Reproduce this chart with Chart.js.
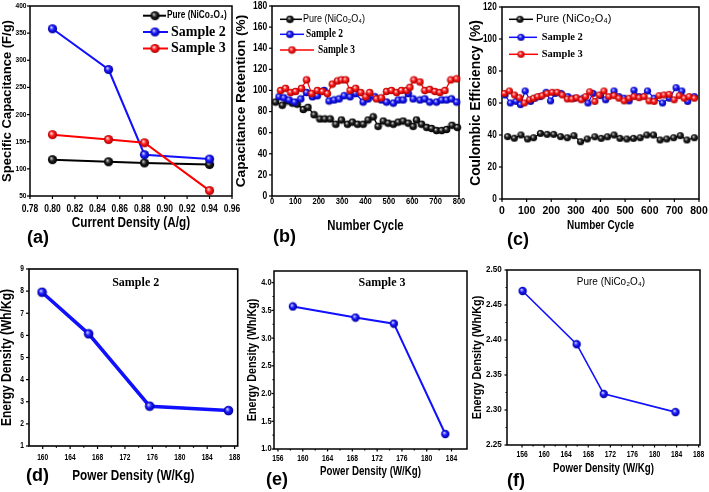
<!DOCTYPE html>
<html><head><meta charset="utf-8"><title>Supercapacitor performance</title>
<script src="https://cdn.jsdelivr.net/npm/chart.js@4.4.1/dist/chart.umd.min.js"></script>
<style>
html,body{margin:0;padding:0;background:#fff;}
body{width:709px;height:492px;overflow:hidden;position:relative;}
canvas{position:absolute;}
.pl{position:absolute;font:bold 18px "Liberation Sans",Arial,sans-serif;line-height:18px;color:#000;}
</style></head><body>
<script>
// ---------- DATA ----------
const LBL_PURE = 'Pure (NiCo\u2082O\u2084)';
const LBL_S2 = 'Sample 2';
const LBL_S3 = 'Sample 3';

// (a) specific capacitance vs current density
const aX = [0.80, 0.85, 0.882, 0.94];
const aPure = [117, 113, 111, 108];
const aSample2 = [358, 283, 126, 118];
const aSample3 = [163, 154, 148, 60];
const aXTicks = [0.78, 0.80, 0.82, 0.84, 0.86, 0.88, 0.90, 0.92, 0.94, 0.96];
const aYTicks = [50, 100, 150, 200, 250, 300, 350, 400];

// (b) capacitance retention vs cycle
const bPureX = [15,44,65,87,108,134,154,180,205,226,249,273,297,323,344,366,390,411,433,454,476,497,519,540,561,583,604,618,640,662,683,704,726,747,770,793];
const bPureY = [89,86,90,88,87,82,84,77,73,73,73,68,72,68,70,68,68,72,75,66,71,69,68,70,71,69,66,72,68,65,64,62,62,63,67,65];
const bS2X = [30,51,73,97,123,148,173,194,223,244,266,287,309,334,358,390,411,440,468,490,519,540,561,583,604,633,654,675,704,726,747,768,790];
const bS2Y = [94,93,91,89,92,98,94,95,100,90,91,92,95,94,97,89,92,94,91,89,88,91,91,97,92,91,92,89,89,91,91,92,89];
const bS3X = [37,58,80,101,126,148,170,194,216,237,258,280,297,315,334,358,380,401,418,447,468,490,511,533,554,576,590,607,633,654,675,697,718,740,765,790];
const bS3Y = [100,102,98,99,102,110,97,100,99,97,106,109,110,110,100,102,98,94,98,92,93,99,100,98,100,100,103,110,108,100,101,99,98,100,110,111];
const bXTicks = [0,100,200,300,400,500,600,700,800];
const bYTicks = [0,20,40,60,80,100,120,140,160,180];

// (c) coulombic efficiency vs cycle
const cPureX = [23,50,77,104,128,156,183,210,238,265,292,319,346,377,403,428,455,479,507,534,561,588,615,642,669,697,724,751,781];
const cPureY = [39,38,40,37.5,38.3,41,40.4,40.4,39,38.3,39.6,35.8,37.5,38.9,37.9,38.9,40,37.9,37.5,37.9,38.3,40,40,36.9,37.5,38.3,39.6,36.9,38.3];
const cS2X = [12,34,57,75,94,116,134,156,179,197,216,240,268,295,329,349,370,400,421,455,475,496,516,536,557,591,618,652,679,707,730,754,781];
const cS2Y = [65,60,61,59,67.5,61,63,64,66.7,61.3,66,66,64,63,63,60,66,64.6,62,67.5,64,63,61.3,68,64,67.5,63,60,63,69.6,67.5,61,64];
const cS3X = [10,30,51,71,91,112,128,145,163,183,204,224,245,265,284,303,322,340,356,377,395,414,434,455,475,496,516,536,557,577,597,618,638,658,679,699,720,740,760,781];
const cS3Y = [66,67.5,65,63.3,60,62,63,64,64.6,66,66.7,66.7,65,62.5,62.5,63.3,62,64,67,61,65,67.5,64,64.6,63,61.3,63,64,63.3,64,61.3,61,64.6,65,65.4,62,64.6,63,64,63];
const cXTicks = [0,100,200,300,400,500,600,700,800];
const cYTicks = [0,20,40,60,80,100,120];

// (d) Sample 2 energy vs power density
const dX = [159.9, 166.7, 175.6, 187.1];
const dY = [7.95, 6.07, 2.8, 2.6];
const dXTicks = [160,164,168,172,176,180,184,188];
const dYTicks = [1,2,3,4,5,6,7,8,9];

// (e) Sample 3
const eX = [158.4, 168.5, 174.7, 183.0];
const eY = [3.57, 3.37, 3.26, 1.27];
const eXTicks = [156,160,164,168,172,176,180,184];
const eYTicks = [1.0,1.5,2.0,2.5,3.0,3.5,4.0];

// (f) Pure
const fX = [156.1, 165.9, 170.8, 183.8];
const fY = [2.47, 2.394, 2.323, 2.297];
const fXTicks = [156,160,164,168,172,176,180,184,188];
const fYTicks = [2.25,2.30,2.35,2.40,2.45,2.50];

// ---------- STYLE / HELPERS ----------
const FS = '"Liberation Sans",Arial,sans-serif';
const FT = '"Liberation Serif","Times New Roman",serif';
Chart.defaults.color = '#000';

const COLORS = {
  black: {line:'#000000', stops:['#f0f0f0','#8a8a8a','#1e1e1e','#000000']},
  blue:  {line:'#1010ff', stops:['#ffffff','#8c8cff','#1a1aff','#00009a']},
  red:   {line:'#ff0000', stops:['#ffffff','#ff9a9a','#ff1a1a','#a80000']}
};
function sphere(col, r){
  const s = Math.ceil(2*r)+1;
  const c = document.createElement('canvas'); c.width = s; c.height = s;
  const g = c.getContext('2d'); const cx = s/2, cy = s/2;
  const st = COLORS[col].stops;
  const grd = g.createRadialGradient(cx-r*0.3, cy-r*0.35, 0, cx, cy, r);
  grd.addColorStop(0, st[0]); grd.addColorStop(0.22, st[1]); grd.addColorStop(0.5, st[2]); grd.addColorStop(1, st[3]);
  g.fillStyle = grd; g.beginPath(); g.arc(cx, cy, r, 0, Math.PI*2); g.fill();
  return c;
}
function pts(xs, ys){ return xs.map((x,i)=>({x:x, y:ys[i]})); }
function ds(label, xs, ys, col, r, lw, order){
  const img = sphere(col, r);
  return {label, data: pts(xs,ys), showLine:true, borderColor:COLORS[col].line, backgroundColor:COLORS[col].line,
    borderWidth:lw, pointStyle:img, pointRadius:r, pointHoverRadius:r, clip:false, tension:0, order:order};
}
const fontStr = F => `${F.weight||'normal'} ${F.size}px ${F.family}`;
function drawText(ctx, s, x, y, font, sx, align, rot){
  ctx.save(); ctx.translate(x, y); if (rot) ctx.rotate(rot); ctx.scale(sx, 1);
  ctx.font = font; ctx.textAlign = align; ctx.textBaseline = 'middle'; ctx.fillStyle = '#000';
  ctx.fillText(s, 0, 0); ctx.restore();
}

const framePlugin = {
  id:'frame',
  beforeDatasetsDraw(chart, args, o){
    const {ctx, chartArea:a} = chart; const x = chart.scales.x, y = chart.scales.y;
    ctx.save();
    ctx.strokeStyle = '#000'; ctx.lineWidth = o.lw;
    ctx.strokeRect(a.left, a.top, a.right-a.left, a.bottom-a.top);
    ctx.lineWidth = o.tw;
    const tk = (sc, horiz, len, vals) => vals.forEach(v => {
      const p = sc.getPixelForValue(v); ctx.beginPath();
      if (horiz){ ctx.moveTo(p, a.bottom); ctx.lineTo(p, a.bottom+len); }
      else { ctx.moveTo(a.left, p); ctx.lineTo(a.left-len, p); }
      ctx.stroke();
    });
    const maj = sc => sc.ticks.map(t => t.value);
    const mid = arr => arr.slice(1).map((v,i) => (v+arr[i])/2);
    tk(x, true, o.tl, maj(x)); tk(y, false, o.tl, maj(y));
    if (o.minorX) tk(x, true, o.tl*0.6, mid(maj(x)));
    if (o.minorY) tk(y, false, o.tl*0.6, mid(maj(y)));
    ctx.restore();
  }
};
// tick labels and axis titles, drawn at the positions the scales give
const axisTextPlugin = {
  id:'axtext',
  afterDraw(chart, args, o){
    const P = o.p; if (!P) return;
    const ctx = chart.ctx, a = chart.chartArea, X = chart.scales.x, Y = chart.scales.y;
    X.ticks.forEach(t => drawText(ctx, P.x.fmt(t.value), X.getPixelForValue(t.value), P.x.tcy - P.cv.t, fontStr(P.x.tf), P.x.sx, 'center'));
    Y.ticks.forEach(t => drawText(ctx, P.y.fmt(t.value), P.y.trx - P.cv.l, Y.getPixelForValue(t.value), fontStr(P.y.tf), P.y.sx, 'right'));
    drawText(ctx, X.options.title.text, (a.left+a.right)/2, P.x.tcyT - P.cv.t, fontStr(P.x.ttf), P.x.sxT, 'center');
    drawText(ctx, Y.options.title.text, P.y.tcxT - P.cv.l, (a.top+a.bottom)/2, fontStr(P.y.ttf), P.y.sxT, 'center', -Math.PI/2);
  }
};
const legendPlugin = {
  id:'ilegend',
  afterDatasetsDraw(chart, args, o){
    if (!o.items) return;
    const ctx = chart.ctx;
    chart.data.datasets.forEach((d, i) => {
      const it = o.items[i]; if (!it) return;
      const y = it.y - o.oy;
      ctx.save();
      if (it.x0 != null){
        ctx.strokeStyle = d.borderColor; ctx.lineWidth = it.lw || 2;
        ctx.beginPath(); ctx.moveTo(it.x0-o.ox, y); ctx.lineTo(it.x1-o.ox, y); ctx.stroke();
        const img = d.pointStyle;
        ctx.drawImage(img, it.m-o.ox-img.width/2, y-img.height/2);
      }
      ctx.restore();
      drawText(ctx, d.label, it.tx-o.ox, y, it.font, it.sx || 1, it.align || 'left');
    });
  }
};

function makePanel(p){
  const cv = document.createElement('canvas');
  cv.width = p.cv.r - p.cv.l; cv.height = p.cv.b - p.cv.t;
  cv.style.left = p.cv.l+'px'; cv.style.top = p.cv.t+'px';
  document.body.appendChild(cv);
  const yW = p.plot.l - p.cv.l, xH = p.cv.b - p.plot.b;
  const axis = (A, isX) => ({
    type:'linear', min:A.min, max:A.max,
    afterBuildTicks: s => { s.ticks = A.ticks.map(v => ({value:v})); },
    afterFit: s => { if (isX) s.height = xH; else s.width = yW; },
    grid:{display:false, drawTicks:false}, border:{display:false},
    ticks:{display:false, autoSkip:false, maxRotation:0, minRotation:0},
    title:{display:false, text:A.title}
  });
  new Chart(cv, {
    type:'scatter',
    data:{datasets:p.datasets},
    options:{
      responsive:false, animation:false, devicePixelRatio:1, events:[],
      layout:{padding:{left:0, top:p.plot.t - p.cv.t, right:p.cv.r - p.plot.r, bottom:0}},
      plugins:{legend:{display:false}, tooltip:{enabled:false},
        frame:{lw:p.frame.lw, tw:p.frame.tw, tl:p.frame.tl, minorX:p.frame.minorX, minorY:p.frame.minorY},
        axtext:{p:p},
        ilegend:{items:p.legend, ox:p.cv.l, oy:p.cv.t}},
      scales:{x:axis(p.x, true), y:axis(p.y, false)}
    },
    plugins:[framePlugin, legendPlugin, axisTextPlugin]
  });
}

const fmt2 = v => v.toFixed(2), fmt1 = v => v.toFixed(1), fmt0 = v => String(v);
const bold = (size) => ({family:FS, size:size, weight:'bold'});

const PANELS = [
 { // (a)
  plot:{l:30,t:6,r:232,b:196}, cv:{l:0,t:-4,r:246,b:240},
  x:{min:0.78,max:0.96,ticks:aXTicks,fmt:fmt2,tf:bold(10),sx:0.85,tcy:209,title:'Current Density (A/g)',ttf:bold(14),sxT:0.84,tcyT:223},
  y:{min:50,max:400,ticks:aYTicks,fmt:fmt0,tf:bold(7.5),sx:0.88,trx:26.5,title:'Specific Capacitance (F/g)',ttf:bold(13),sxT:1,tcxT:7.7},
  frame:{lw:1.5,tw:1.2,tl:3},
  datasets:[ds(LBL_PURE,aX,aPure,'black',4.6,2,2), ds(LBL_S2,aX,aSample2,'blue',4.6,2,1), ds(LBL_S3,aX,aSample3,'red',4.6,2,0)],
  legend:[{x0:143,x1:166,m:155,y:15.7,tx:167,font:`bold 10px ${FS}`,sx:0.83,lw:2},
          {x0:143,x1:168,m:155,y:32,tx:171,font:`bold 14px ${FT}`,lw:2},
          {x0:143,x1:168,m:155,y:48.5,tx:171,font:`bold 14px ${FT}`,lw:2}]
 },
 { // (b)
  plot:{l:272,t:6,r:459,b:196}, cv:{l:233,t:-4,r:467,b:240},
  x:{min:0,max:800,ticks:bXTicks,fmt:fmt0,tf:bold(9.5),sx:0.8,tcy:201.5,title:'Number Cycle',ttf:bold(14),sxT:0.81,tcyT:226},
  y:{min:0,max:180,ticks:bYTicks,fmt:fmt0,tf:bold(10),sx:0.85,trx:267.3,title:'Capacitance Retention (%)',ttf:bold(13.7),sxT:1,tcxT:241.7},
  frame:{lw:1.5,tw:1.2,tl:3},
  datasets:[ds(LBL_PURE,bPureX,bPureY,'black',3.8,1.3,2), ds(LBL_S2,bS2X,bS2Y,'blue',3.8,1.3,1), ds(LBL_S3,bS3X,bS3Y,'red',3.8,1.3,0)],
  legend:[{x0:280,x1:302,m:290,y:19.3,tx:303,font:`10.5px ${FS}`,sx:0.86,lw:1.5},
          {x0:280,x1:304,m:290,y:34.3,tx:306,font:`bold 11.5px ${FT}`,sx:0.82,lw:1.5},
          {x0:280,x1:314,m:292,y:50,tx:318,font:`bold 11.5px ${FT}`,sx:0.82,lw:1.5}]
 },
 { // (c)
  plot:{l:502,t:7,r:699,b:199}, cv:{l:467,t:-3,r:709,b:240},
  x:{min:0,max:800,ticks:cXTicks,fmt:fmt0,tf:bold(11),sx:0.95,tcy:210.7,title:'Number Cycle',ttf:bold(12),sxT:0.83,tcyT:225.5},
  y:{min:0,max:120,ticks:cYTicks,fmt:fmt0,tf:bold(10),sx:0.82,trx:496.7,title:'Coulombic Efficiency (%)',ttf:bold(13.8),sxT:1,tcxT:476},
  frame:{lw:1.5,tw:1.2,tl:3},
  datasets:[ds(LBL_PURE,cPureX,cPureY,'black',3.6,1.2,2), ds(LBL_S2,cS2X,cS2Y,'blue',3.6,1.2,1), ds(LBL_S3,cS3X,cS3Y,'red',3.6,1.2,0)],
  legend:[{x0:509,x1:533,m:520,y:19.3,tx:536,font:`11px ${FS}`,lw:1.5},
          {x0:509,x1:537,m:521,y:37.3,tx:541.7,font:`bold 10.5px ${FT}`,lw:1.5},
          {x0:509,x1:538,m:521,y:54.3,tx:541.7,font:`bold 10.5px ${FT}`,lw:1.5}]
 },
 { // (d)
  plot:{l:29,t:269,r:238,b:446}, cv:{l:0,t:259,r:246,b:490},
  x:{min:158,max:188.45,ticks:dXTicks,fmt:fmt0,tf:bold(8.5),sx:0.78,tcy:457.3,title:'Power Density (W/Kg)',ttf:bold(14),sxT:0.84,tcyT:476.5},
  y:{min:1,max:9,ticks:dYTicks,fmt:fmt0,tf:bold(8.5),sx:0.78,trx:24,title:'Energy Density (Wh/Kg)',ttf:bold(14.5),sxT:0.83,tcxT:7.3},
  frame:{lw:1.6,tw:1.2,tl:3,minorX:true},
  datasets:[ds(LBL_S2,dX,dY,'blue',4.8,3.5,0)],
  legend:[{y:283.3,tx:135.7,align:'center',font:`bold 12px ${FT}`}]
 },
 { // (e)
  plot:{l:274,t:271,r:467,b:449}, cv:{l:244,t:261,r:476,b:490},
  x:{min:155.36,max:186.5,ticks:eXTicks,fmt:fmt0,tf:bold(9),sx:0.75,tcy:458.3,title:'Power Density (W/Kg)',ttf:bold(12),sxT:0.81,tcyT:471.5},
  y:{min:1.0,max:4.21,ticks:eYTicks,fmt:fmt1,tf:bold(9),sx:0.82,trx:271.5,title:'Energy Density (Wh/Kg)',ttf:bold(13.3),sxT:0.81,tcxT:252.3},
  frame:{lw:1.5,tw:1.2,tl:2.5,minorX:true,minorY:true},
  datasets:[ds(LBL_S3,eX,eY,'blue',4.2,2,0)],
  legend:[{y:283.3,tx:382,align:'center',font:`bold 12px ${FT}`}]
 },
 { // (f)
  plot:{l:507,t:270,r:700,b:445}, cv:{l:469,t:260,r:709,b:490},
  x:{min:153.28,max:188.24,ticks:fXTicks,fmt:fmt0,tf:bold(9),sx:0.75,tcy:455,title:'Power Density (W/Kg)',ttf:bold(12),sxT:0.81,tcyT:468.7},
  y:{min:2.25,max:2.50,ticks:fYTicks,fmt:fmt2,tf:bold(9),sx:0.9,trx:501.7,title:'Energy Density (Wh/Kg)',ttf:bold(13.4),sxT:0.81,tcxT:477.3},
  frame:{lw:1.5,tw:1.2,tl:2.5,minorX:true,minorY:true},
  datasets:[ds(LBL_PURE,fX,fY,'blue',4.2,1.6,0)],
  legend:[{y:281.7,tx:611,align:'center',font:`10.5px ${FS}`,sx:0.95}]
 }
];
PANELS.forEach(makePanel);

[['(a)',27,228],['(b)',273,226.5],['(c)',507,229.5],['(d)',26,466],['(e)',266,470],['(f)',507,471]].forEach(([t,l,tp]) => {
  const d = document.createElement('div'); d.className = 'pl'; d.textContent = t;
  d.style.left = l+'px'; d.style.top = tp+'px'; document.body.appendChild(d);
});
</script>
</body></html>
